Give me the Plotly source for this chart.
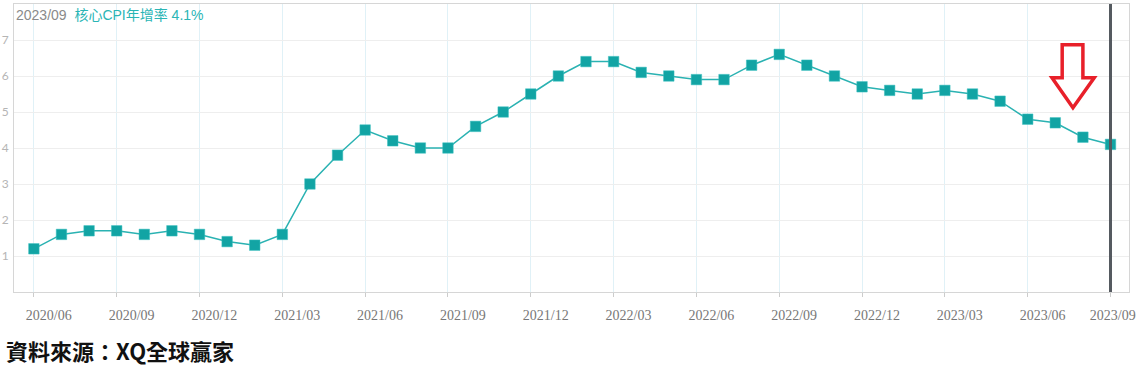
import plotly.graph_objects as go

months = [
    "2020/06", "2020/07", "2020/08", "2020/09", "2020/10", "2020/11", "2020/12",
    "2021/01", "2021/02", "2021/03", "2021/04", "2021/05", "2021/06", "2021/07",
    "2021/08", "2021/09", "2021/10", "2021/11", "2021/12",
    "2022/01", "2022/02", "2022/03", "2022/04", "2022/05", "2022/06", "2022/07",
    "2022/08", "2022/09", "2022/10", "2022/11", "2022/12",
    "2023/01", "2023/02", "2023/03", "2023/04", "2023/05", "2023/06", "2023/07",
    "2023/08", "2023/09",
]
core_cpi = [
    1.2, 1.6, 1.7, 1.7, 1.6, 1.7, 1.6,
    1.4, 1.3, 1.6, 3.0, 3.8, 4.5, 4.2,
    4.0, 4.0, 4.6, 5.0, 5.5,
    6.0, 6.4, 6.4, 6.1, 6.0, 5.9, 5.9,
    6.3, 6.6, 6.3, 6.0, 5.7,
    5.6, 5.5, 5.6, 5.5, 5.3, 4.8, 4.7,
    4.3, 4.1,
]
y_ticks = [1, 2, 3, 4, 5, 6, 7]

idx = list(range(len(months)))
tick_idx = idx[::3]
tick_text = [months[i] for i in tick_idx]
# label positions shifted right of the tick marks (last one kept inside)
label_shift = 0.54
label_pos = [i + label_shift for i in tick_idx]
label_pos[-1] = tick_idx[-1] + 0.08

x_range = [-0.72, 39.67]

fig = go.Figure()
fig.add_trace(go.Scatter(
    x=idx, y=core_cpi, mode="lines+markers",
    line=dict(color="#2ab2b2", width=1.5),
    marker=dict(symbol="square", size=10.5, color="#12a4a4",
                line=dict(color="#3cc0c0", width=0.5)),
    hoverinfo="skip", showlegend=False,
))
# invisible trace to activate label axis
fig.add_trace(go.Scatter(x=[x_range[0]], y=[0], xaxis="x2", mode="markers",
                         marker=dict(opacity=0), showlegend=False, hoverinfo="skip"))

fig.update_layout(
    width=1138, height=374,
    margin=dict(l=14, r=9, t=4, b=82, autoexpand=False),
    paper_bgcolor="white", plot_bgcolor="white",
    xaxis=dict(
        range=x_range, tickvals=tick_idx, ticktext=["" for _ in tick_idx],
        showgrid=True, gridcolor="#e0f1f7", gridwidth=1,
        ticks="outside", ticklen=4, tickcolor="#cccccc",
        showline=True, linecolor="#d6d6d6", linewidth=1, mirror=True,
        zeroline=False, automargin=False,
    ),
    xaxis2=dict(
        range=x_range, overlaying="x", side="bottom",
        tickvals=label_pos, ticktext=tick_text,
        showgrid=False, ticks="outside", ticklen=10, tickcolor="rgba(0,0,0,0)",
        showline=False, zeroline=False, automargin=False,
        ticklabeloverflow="allow",
        tickfont=dict(family="Liberation Serif", size=14, color="#777777"),
    ),
    yaxis=dict(
        range=[0, 8], tickvals=y_ticks,
        showgrid=True, gridcolor="#eeeeee", gridwidth=1,
        showline=True, linecolor="#d6d6d6", linewidth=1, mirror=True,
        zeroline=False, ticks="", automargin=False,
        tickfont=dict(family="Lato", size=12, color="#b5b5b5"),
        ticklabelstandoff=2,
    ),
)

# crosshair at the latest month
fig.add_shape(type="line", xref="x", yref="paper",
              x0=idx[-1], x1=idx[-1], y0=0, y1=1,
              line=dict(color="#555a60", width=3))

# red hollow down-arrow marking the latest decline
ax, ay = 37.64, 6.87
arrow_path = (f"M {ax-0.39} {ay} L {ax+0.36} {ay} L {ax+0.36} {ay-0.92} "
              f"L {ax+0.77} {ay-0.92} L {ax} {ay-1.75} L {ax-0.76} {ay-0.92} "
              f"L {ax-0.39} {ay-0.92} Z")
fig.add_shape(type="path", xref="x", yref="y", path=arrow_path,
              line=dict(color="#e8202a", width=3.5), fillcolor="rgba(0,0,0,0)")

fig.add_annotation(
    xref="paper", yref="paper", x=0, y=1, xanchor="left", yanchor="top",
    xshift=0, yshift=-1,
    text=(f"<span style='color:#8a8a8a'>{months[-1]}</span>"
          f"  <span style='color:#2ab5b5'>核心CPI年增率 {core_cpi[-1]}%</span>"),
    showarrow=False,
    font=dict(family="Liberation Sans, Noto Sans CJK TC", size=14),
)

fig.add_annotation(
    xref="paper", yref="paper", x=0, y=0, xanchor="left", yanchor="top",
    xshift=-10, yshift=-40,
    text="<b>資料來源：XQ全球贏家</b>",
    showarrow=False,
    font=dict(family="Noto Sans CJK TC", size=22, color="#111111"),
)

fig.write_html("out.html",
               config={"displayModeBar": False},
               post_script="document.body.style.margin='0';document.body.style.overflow='hidden';")
